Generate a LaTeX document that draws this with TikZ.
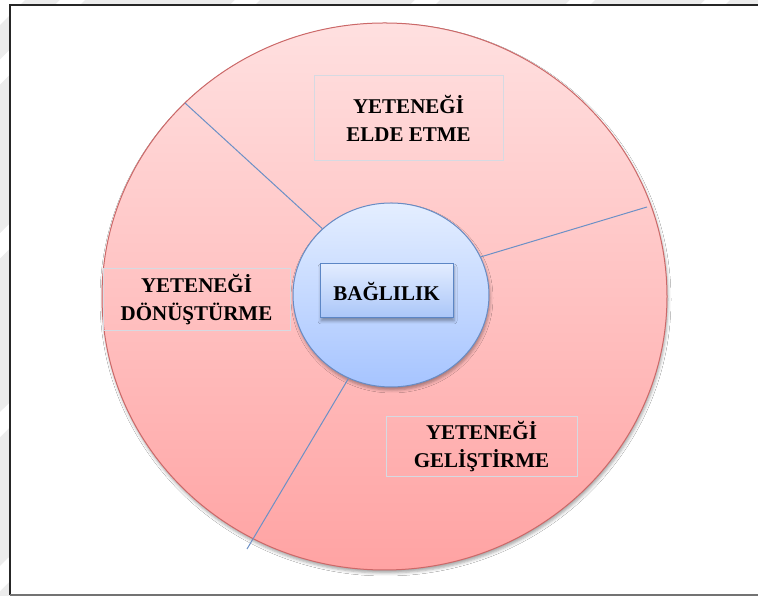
\documentclass[tikz,border=0pt]{standalone}
\usepackage{fontspec}
\setmainfont{Liberation Serif}
\usetikzlibrary{shapes.geometric,shadows.blur}

\definecolor{pagegray}{RGB}{236,236,236}
\definecolor{ringtop}{RGB}{255,224,224}
\definecolor{ringbottom}{RGB}{255,163,163}
\definecolor{ringedge}{RGB}{204,104,104}
\definecolor{hubtop}{RGB}{228,238,255}
\definecolor{hubbottom}{RGB}{166,196,255}
\definecolor{hubedge}{RGB}{104,140,196}
\definecolor{coretop}{RGB}{226,236,255}
\definecolor{corebottom}{RGB}{170,198,248}
\definecolor{coreedge}{RGB}{92,134,197}
\definecolor{labeledge}{RGB}{214,218,226}
\definecolor{spokecol}{RGB}{108,144,198}

\tikzset{
  softshadow/.style={blur shadow={shadow xshift=1pt, shadow yshift=-3pt,
      shadow blur radius=3pt, shadow opacity=35}},
  ring/.style={ellipse, inner sep=0pt, draw=ringedge, line width=1pt,
      top color=ringtop, bottom color=ringbottom, softshadow},
  hub/.style={ellipse, inner sep=0pt, draw=hubedge, line width=1pt,
      top color=hubtop, bottom color=hubbottom, softshadow},
  corebox/.style={rectangle, inner sep=0pt, draw=coreedge, line width=1pt,
      top color=coretop, bottom color=corebottom, softshadow,
      font=\fontsize{21}{28}\selectfont\bfseries},
  labelbox/.style={rectangle, inner sep=0pt, draw=labeledge, line width=1pt,
      align=center, font=\fontsize{21}{28}\selectfont\bfseries},
  spoke/.style={draw=spokecol, line width=1pt},
  frameline/.style={line width=2pt, black!85},
}

\begin{document}
\begin{tikzpicture}[x=1pt,y=1pt]
\useasboundingbox (0,0) rectangle (758,596);

% page background with light streaks outside the frame
\fill[pagegray] (0,0) rectangle (758,596);
\begin{scope}
  \clip (0,0) rectangle (758,596);
  \foreach \sx in {0,60,235,415,570,705} {
    \fill[white] (\sx,596) -- (\sx+25,596) -- (\sx-575,0) -- (\sx-600,0) -- cycle;
  }
\end{scope}
\fill[white] (10,1) rectangle (758,591);

% frame lines
\draw[frameline] (10,1) -- (10,591) -- (758,591);
\draw[line width=1.5pt, black!55] (10,1) -- (758,1);

% outer ring and central hub
\node[ring, minimum width=565pt, minimum height=547pt] (outer) at (384.5,299.5) {};
\node[hub, minimum width=196pt, minimum height=184pt] (hub) at (391,301) {};

% free ends of the spokes
\coordinate (endA) at (185,493);
\coordinate (endB) at (647,389);
\coordinate (endC) at (247,47);

\draw[spoke] (hub.136) -- (endA);
\draw[spoke] (hub.23) -- (endB);
\draw[spoke] (hub.243) -- (endC);

% central label
\node[corebox, minimum width=133pt, minimum height=54pt] (core) at (386.5,305) {BAĞLILIK};

% the three segment labels
\node[labelbox, minimum width=189pt, minimum height=85pt] (acquire) at (408.5,477.5)
  {YETENEĞİ\\ELDE ETME};
\node[labelbox, minimum width=187pt, minimum height=62pt] (transform) at (196.5,296)
  {YETENEĞİ\\DÖNÜŞTÜRME};
\node[labelbox, minimum width=191pt, minimum height=60pt] (develop) at (481.5,149)
  {YETENEĞİ\\GELİŞTİRME};
\end{tikzpicture}
\end{document}
